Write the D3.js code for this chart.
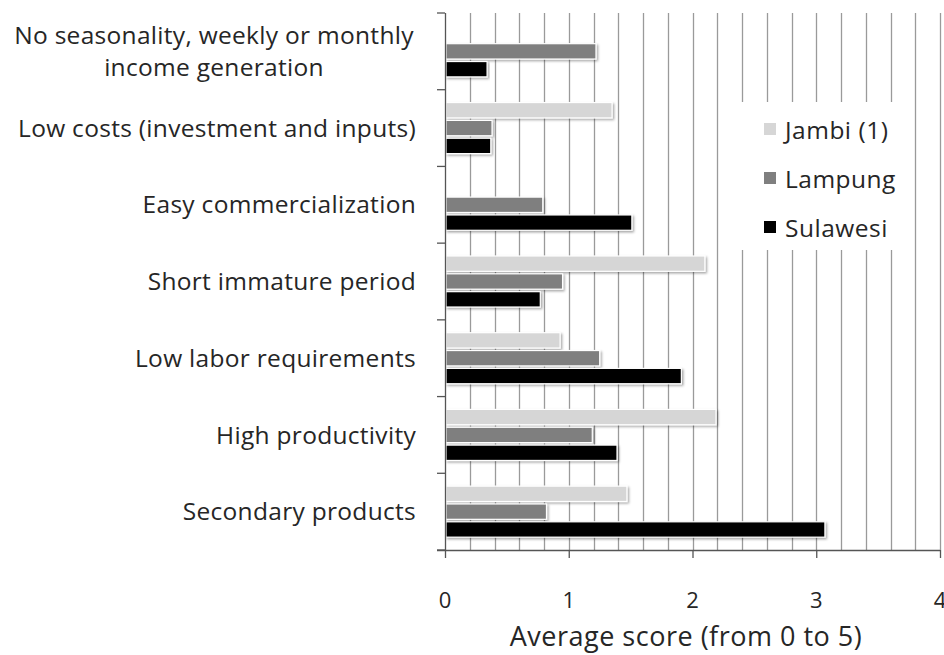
<!DOCTYPE html>
<html><head><meta charset="utf-8">
<script src="https://cdn.jsdelivr.net/npm/d3@7"></script>
<style>body{margin:0;background:#fff}svg{display:block}text{font-family:"Open Sans",Lato,sans-serif;fill:#262626}</style>
</head><body><svg id="c" width="944" height="655"></svg>
<script>
const categories = [
  ["No seasonality, weekly or monthly","income generation"],
  ["Low costs (investment and inputs)"],
  ["Easy commercialization"],
  ["Short immature period"],
  ["Low labor requirements"],
  ["High productivity"],
  ["Secondary products"]
];
const seriesNames = ["Jambi (1)","Lampung","Sulawesi"];
const seriesColors = ["#d6d6d6","#7f7f7f","#000000"];
const jambi    = [null, 1.35, null, 2.10, 0.93, 2.19, 1.47];
const lampung  = [1.22, 0.38, 0.79, 0.95, 1.25, 1.19, 0.82];
const sulawesi = [0.34, 0.37, 1.51, 0.77, 1.91, 1.39, 3.07];
const xTicks = [0,1,2,3,4];
const xTitle = "Average score (from 0 to 5)";

const svg = d3.select("#c");
const pL = 445, pR = 940, pT = 13, pB = 550;
const x = d3.scaleLinear().domain([0,4]).range([pL,pR]);
const y = d3.scaleBand().domain(d3.range(categories.length)).range([pT,pB]).padding(0);
const ys = d3.scaleBand().domain(d3.range(3)).range([0,y.bandwidth()]).paddingInner(0.14).paddingOuter(0.72);

const defs = svg.append("defs");
const f = defs.append("filter").attr("id","sh").attr("x","-5%").attr("y","-30%").attr("width","110%").attr("height","170%");
f.append("feDropShadow").attr("dx",1.5).attr("dy",1.5).attr("stdDeviation",1.2).attr("flood-color","#000").attr("flood-opacity",0.35);

// gridlines
svg.append("g").selectAll("line").data(d3.range(1,21).map(i=>i*0.2)).join("line")
  .attr("x1",d=>Math.round(x(d))+0.5).attr("x2",d=>Math.round(x(d))+0.5)
  .attr("y1",pT).attr("y2",pB)
  .attr("stroke","#9a9a9a").attr("stroke-width",1.3);

// bars
const series = [jambi,lampung,sulawesi];
series.forEach((vals,si)=>{
  svg.append("g").selectAll("rect").data(vals.map((v,i)=>({v,i})).filter(d=>d.v!=null)).join("rect")
    .attr("x",x(0)+1).attr("y",d=>y(d.i)+ys(si))
    .attr("width",d=>x(d.v)-x(0)-1).attr("height",ys.bandwidth())
    .attr("fill",seriesColors[si]).attr("stroke","#fff").attr("stroke-width",1.2)
    .attr("filter","url(#sh)");
});

// y axis
const yAxis = svg.append("g");
yAxis.append("line").attr("x1",pL+0.5).attr("x2",pL+0.5).attr("y1",pT).attr("y2",pB).attr("stroke","#555").attr("stroke-width",1.3);
yAxis.selectAll(".t").data(d3.range(categories.length+1)).join("line")
  .attr("x1",pL-8).attr("x2",pL).attr("y1",d=>pT+d*y.step()).attr("y2",d=>pT+d*y.step())
  .attr("stroke","#555").attr("stroke-width",1.3);
// x axis
svg.append("line").attr("x1",pL-8).attr("x2",pR).attr("y1",pB+0.5).attr("y2",pB+0.5).attr("stroke","#555").attr("stroke-width",1.3);
svg.append("g").selectAll("line").data(xTicks).join("line")
  .attr("x1",d=>x(d)+0.5).attr("x2",d=>x(d)+0.5).attr("y1",pB).attr("y2",pB+8)
  .attr("stroke","#555").attr("stroke-width",1.3);
svg.append("g").selectAll("text").data(xTicks).join("text")
  .attr("x",d=>x(d)).attr("y",608).attr("text-anchor","middle").attr("font-size",22).text(d=>d);
svg.append("text").attr("x",686).attr("y",646).attr("text-anchor","middle").attr("font-size",27)
  .attr("letter-spacing",0.5).text(xTitle);

// category labels
const lab = svg.append("g");
categories.forEach((lines,i)=>{
  const cy = y(i)+y.bandwidth()/2;
  const lh = 32;
  lines.forEach((t,j)=>{
    lab.append("text").attr("x", lines.length>1 ? 214 : 416)
      .attr("text-anchor", lines.length>1 ? "middle":"end")
      .attr("y", cy + (j-(lines.length-1)/2)*lh).attr("dy","0.35em").attr("font-size",24.5)
      .attr("letter-spacing",0.3).text(t);
  });
});

// legend
const lg = svg.append("g");
lg.append("rect").attr("x",722).attr("y",102).attr("width",190).attr("height",148).attr("fill","#fff");
seriesNames.forEach((n,i)=>{
  const cy = 130 + i*49;
  lg.append("rect").attr("x",764).attr("y",cy-7).attr("width",12).attr("height",12).attr("fill",seriesColors[i]);
  lg.append("text").attr("x",785).attr("y",cy).attr("dy","0.35em").attr("font-size",24.5)
    .attr("letter-spacing",0.5).text(n);
});
</script></body></html>
